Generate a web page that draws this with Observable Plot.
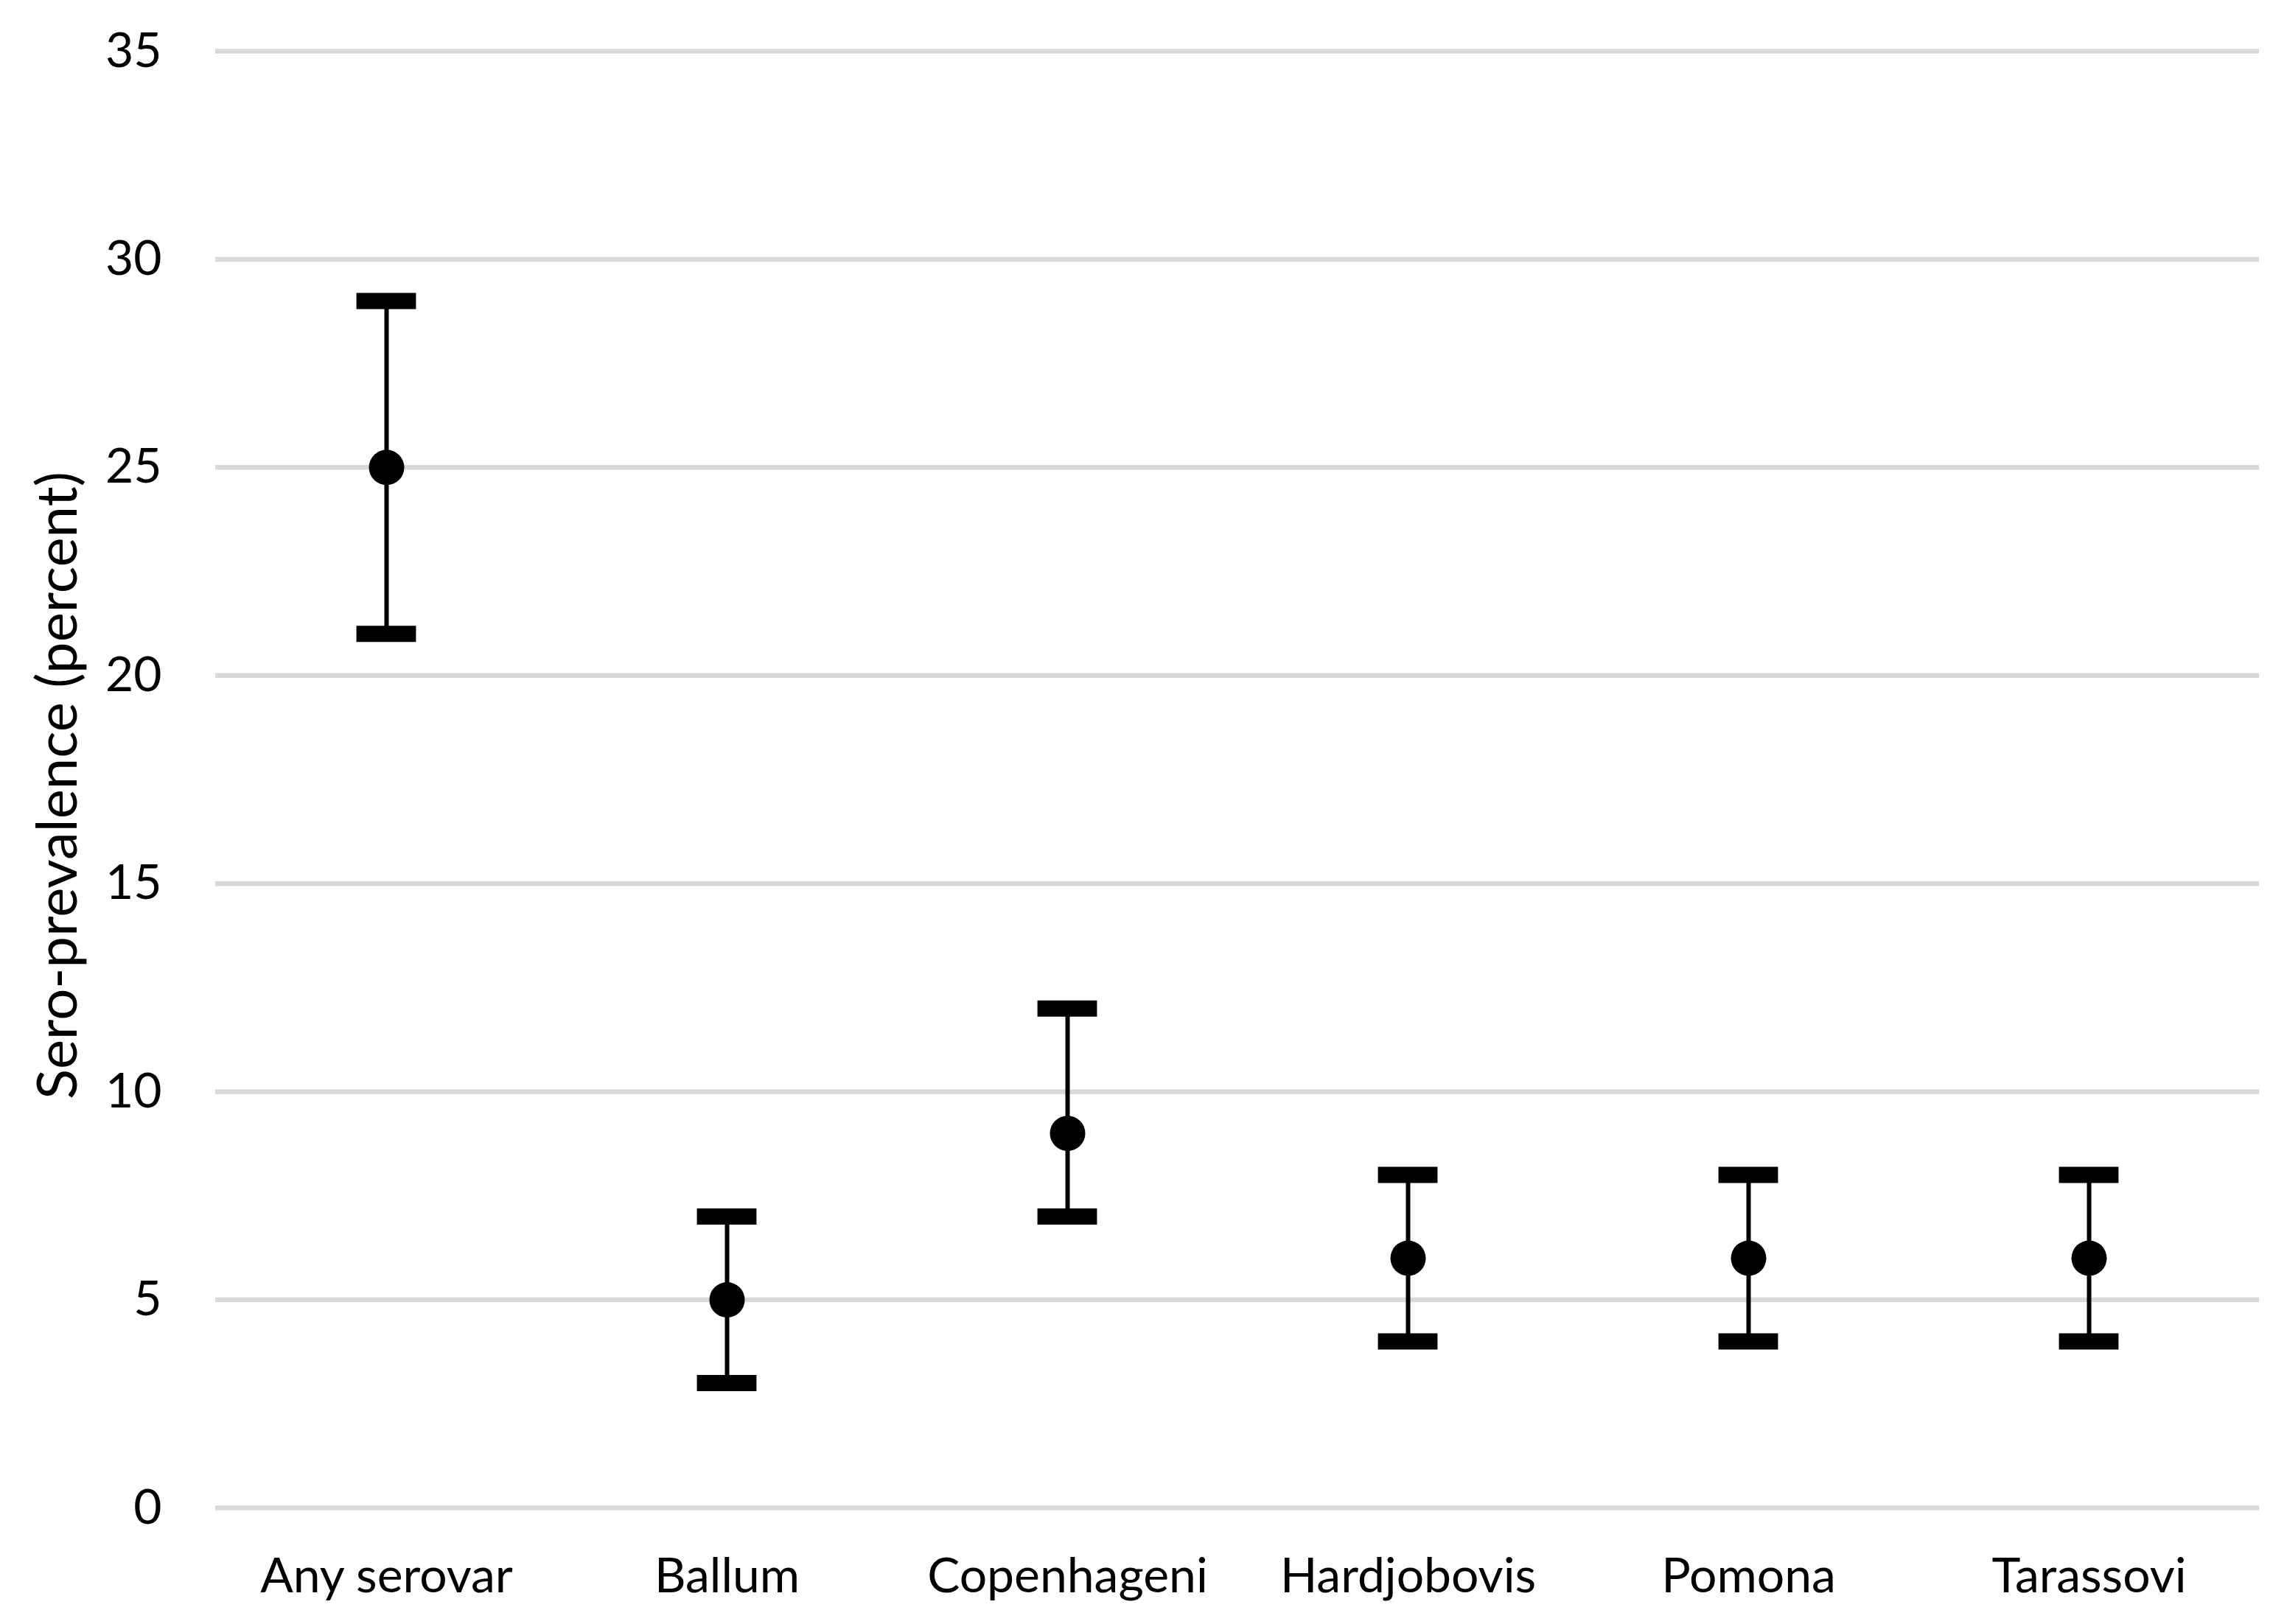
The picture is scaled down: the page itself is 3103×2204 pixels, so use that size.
<!DOCTYPE html>
<html>
<head>
<meta charset="utf-8">
<script src="https://cdn.jsdelivr.net/npm/d3@7"></script>
<script src="https://cdn.jsdelivr.net/npm/@observablehq/plot@0.6"></script>
<style>
  html, body { margin: 0; padding: 0; background: #fff; }
  #chart svg { display: block; }
</style>
</head>
<body>
<div id="chart"></div>
<script>
const categories = ["Any serovar", "Ballum", "Copenhageni", "Hardjobovis", "Pomona", "Tarassovi"];
const estimates = [25, 5, 9, 6, 6, 6];
const lowerCI = [21, 3, 7, 4, 4, 4];
const upperCI = [29, 7, 12, 8, 8, 8];
const yTicks = [0, 5, 10, 15, 20, 25, 30, 35];
const yLabel = "Sero-prevalence (percent)";

const data = categories.map((c, i) => ({cat: c, est: estimates[i], lo: lowerCI[i], hi: upperCI[i]}));

const W = 3103, H = 2204;
const mL = 292, mR = 38, mT = 69, mB = 158;
const bandW = (W - mL - mR) / categories.length;
const capW = 81;
const capInset = (bandW - capW) / 2;
const font = "Lato, 'Open Sans', sans-serif";
const fs = 66;

const chart = Plot.plot({
  width: W,
  height: H,
  marginLeft: mL,
  marginRight: mR,
  marginTop: mT,
  marginBottom: mB,
  style: {fontFamily: font, fontSize: fs + "px", color: "#000", background: "#fff"},
  x: {type: "band", domain: categories, padding: 0, label: null},
  y: {domain: [0, 35], label: null},
  marks: [
    Plot.gridY(yTicks, {stroke: "#d9d9d9", strokeWidth: 6.5, strokeOpacity: 1}),
    Plot.axisY(yTicks, {tickSize: 0, tickPadding: 73, fontSize: fs, fill: "#000", tickFormat: d => String(d)}),
    Plot.axisX({tickSize: 0, tickPadding: 68, fontSize: fs, fill: "#000"}),
    Plot.ruleX(data, {x: "cat", y1: "lo", y2: "hi", stroke: "#000", strokeWidth: 6}),
    Plot.tickY(data, {x: "cat", y: "lo", stroke: "#000", strokeWidth: 22, insetLeft: capInset, insetRight: capInset}),
    Plot.tickY(data, {x: "cat", y: "hi", stroke: "#000", strokeWidth: 22, insetLeft: capInset, insetRight: capInset}),
    Plot.dot(data, {x: "cat", y: "est", r: 24, fill: "#000", stroke: "none"}),
    Plot.text([yLabel], {frameAnchor: "left", dx: -213, dy: 8, rotate: -90, fontSize: 76, fill: "#000", textAnchor: "middle", lineAnchor: "middle"})
  ]
});
document.getElementById("chart").appendChild(chart);
</script>
</body>
</html>
